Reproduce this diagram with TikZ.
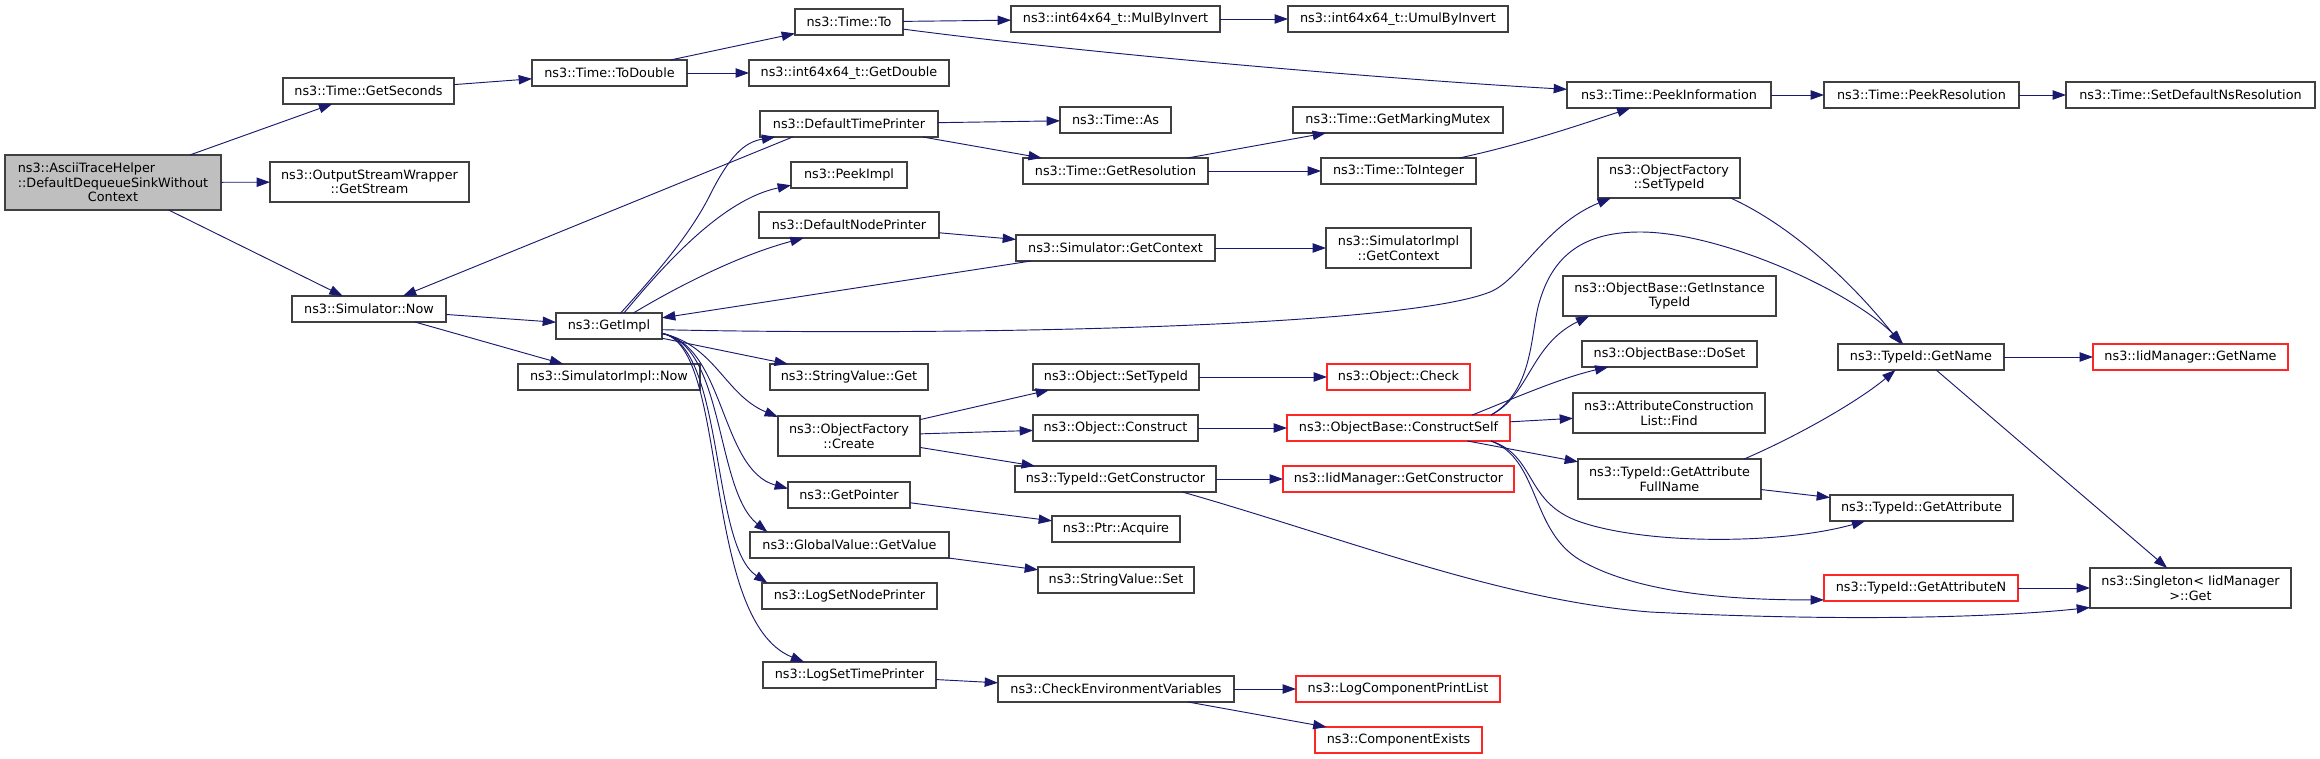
\documentclass[tikz,border=0pt]{standalone}
\usepackage{fontspec}
\setmainfont{DejaVu Sans}
\usetikzlibrary{arrows.meta}
\definecolor{edgec}{HTML}{191970}
\definecolor{boxc}{HTML}{404040}
\definecolor{rootfill}{HTML}{BFBFBF}
\newcommand\bx[7][]{\node[fnbox,#1,minimum width={(#5-#3)*0.75pt},minimum height={(#6-#4)*0.75pt}] (#2) at ({(#3+#5)/2},{(#4+#6)/2}) {#7};}
\begin{document}
\begin{tikzpicture}[x=0.75pt,y=-0.75pt,
  fnbox/.style={draw=boxc,line width=0.8pt,fill=white,inner sep=0pt,outer sep=0pt,align=center,font=\fontsize{9.6pt}{11pt}\selectfont},
  redbox/.style={draw=red!85!white},
  rootbox/.style={fill=rootfill},
  cl/.style={draw=edgec,line width=0.7pt,-{Triangle[length=10pt,width=7pt]}}]
\useasboundingbox (0,0) rectangle (2320,759);
\fill[white] (0,0) rectangle (2320,759);
% nodes
\bx[rootbox]{ascii}{5}{155}{221}{210}{\rlap{ns3::AsciiTraceHelper}\phantom{::DefaultDequeueSinkWithout}\\::DefaultDequeueSinkWithout\\Context}
\bx{getsec}{283}{78}{454}{104}{ns3::Time::GetSeconds}
\bx{osw}{270}{162}{469}{202}{ns3::OutputStreamWrapper\\::GetStream}
\bx{simnow}{292}{296}{446}{322}{ns3::Simulator::Now}
\bx{todouble}{532}{60}{687}{86}{ns3::Time::ToDouble}
\bx{timeto}{795}{9}{903}{35}{ns3::Time::To}
\bx{getdouble}{749}{60}{949}{86}{ns3::int64x64\_t::GetDouble}
\bx{mulby}{1011}{6}{1220}{32}{ns3::int64x64\_t::MulByInvert}
\bx{umulby}{1288}{6}{1508}{32}{ns3::int64x64\_t::UmulByInvert}
\bx{dtp}{760}{111}{938}{137}{ns3::DefaultTimePrinter}
\bx{timeas}{1060}{107}{1171}{133}{ns3::Time::As}
\bx{getres}{1023}{158}{1208}{184}{ns3::Time::GetResolution}
\bx{peekimpl}{791}{162}{907}{188}{ns3::PeekImpl}
\bx{dnp}{759}{212}{939}{238}{ns3::DefaultNodePrinter}
\bx{simgetctx}{1016}{235}{1215}{261}{ns3::Simulator::GetContext}
\bx{simimplgetctx}{1326}{228}{1471}{268}{ns3::SimulatorImpl\\::GetContext}
\bx{getimpl}{556}{313}{662}{339}{ns3::GetImpl}
\bx{simimplnow}{518}{364}{700}{390}{ns3::SimulatorImpl::Now}
\bx{strget}{770}{364}{928}{390}{ns3::StringValue::Get}
\bx{ofcreate}{778}{416}{920}{456}{ns3::ObjectFactory\\::Create}
\bx{objsettype}{1033}{364}{1199}{390}{ns3::Object::SetTypeId}
\bx{objconstruct}{1033}{415}{1198}{441}{ns3::Object::Construct}
\bx{getctor}{1015}{466}{1216}{492}{ns3::TypeId::GetConstructor}
\bx{getptr}{788}{482}{910}{508}{ns3::GetPointer}
\bx{ptracq}{1052}{516}{1180}{542}{ns3::Ptr::Acquire}
\bx{gvgetval}{750}{532}{949}{558}{ns3::GlobalValue::GetValue}
\bx{strset}{1038}{567}{1194}{593}{ns3::StringValue::Set}
\bx{lognode}{762}{583}{937}{609}{ns3::LogSetNodePrinter}
\bx{logtime}{763}{662}{936}{688}{ns3::LogSetTimePrinter}
\bx{checkenv}{998}{676}{1234}{702}{ns3::CheckEnvironmentVariables}
\bx{marking}{1293}{107}{1503}{133}{ns3::Time::GetMarkingMutex}
\bx{toint}{1321}{158}{1476}{184}{ns3::Time::ToInteger}
\bx{peekinfo}{1567}{82}{1771}{108}{ns3::Time::PeekInformation}
\bx{peekres}{1824}{82}{2019}{108}{ns3::Time::PeekResolution}
\bx{setdef}{2066}{82}{2315}{108}{ns3::Time::SetDefaultNsResolution}
\bx{ofsettype}{1598}{158}{1740}{198}{ns3::ObjectFactory\\::SetTypeId}
\bx[redbox]{objcheck}{1327}{364}{1470}{390}{ns3::Object::Check}
\bx[redbox]{constructself}{1287}{415}{1510}{441}{ns3::ObjectBase::ConstructSelf}
\bx[redbox]{iidctor}{1283}{466}{1514}{492}{ns3::IidManager::GetConstructor}
\bx{getinst}{1563}{276}{1776}{316}{ns3::ObjectBase::GetInstance\\TypeId}
\bx{doset}{1582}{341}{1757}{367}{ns3::ObjectBase::DoSet}
\bx{attrfind}{1573}{393}{1765}{433}{ns3::AttributeConstruction\\List::Find}
\bx{attrfull}{1578}{459}{1761}{499}{ns3::TypeId::GetAttribute\\FullName}
\bx[redbox]{getattrn}{1824}{575}{2018}{601}{ns3::TypeId::GetAttributeN}
\bx[redbox]{logcomp}{1296}{676}{1500}{702}{ns3::LogComponentPrintList}
\bx[redbox]{compexists}{1315}{727}{1482}{753}{ns3::ComponentExists}
\bx{tgetname}{1838}{344}{2004}{370}{ns3::TypeId::GetName}
\bx[redbox]{iidgetname}{2093}{344}{2288}{370}{ns3::IidManager::GetName}
\bx{getattr}{1830}{495}{2013}{521}{ns3::TypeId::GetAttribute}
\bx{singleton}{2090}{568}{2291}{608}{ns3::Singleton< IidManager\\>::Get}
% edges
\draw[cl] (ascii) -- (getsec);
\draw[cl] (ascii) -- (osw);
\draw[cl] (ascii) -- (simnow);
\draw[cl] (getsec) -- (todouble);
\draw[cl] (todouble) -- (timeto);
\draw[cl] (todouble) -- (getdouble);
\draw[cl] (timeto) -- (mulby);
\draw[cl] (mulby) -- (umulby);
\draw[cl] (timeto) .. controls (1100,55) and (1400,80) .. (peekinfo);
\draw[cl] (dtp) -- (timeas);
\draw[cl] (dtp) -- (getres);
\draw[cl] (getres) -- (marking);
\draw[cl] (getres) -- (toint);
\draw[cl] (toint) .. controls (1520,145) and (1580,125) .. (peekinfo);
\draw[cl] (peekinfo) -- (peekres);
\draw[cl] (peekres) -- (setdef);
\draw[cl] (dtp.193) -- (simnow.21);
\draw[cl] (getimpl.48) .. controls (655,275) and (690,235) .. (710,195) .. controls (730,155) and (745,142) .. (dtp.190);
\draw[cl] (getimpl.41) .. controls (660,270) and (720,200) .. (peekimpl.190);
\draw[cl] (getimpl.28) .. controls (680,285) and (740,255) .. (dnp.196);
\draw[cl] (dnp) -- (simgetctx);
\draw[cl] (simgetctx) -- (simimplgetctx);
\draw[cl] (simgetctx) -- (getimpl);
\draw[cl] (simnow) -- (getimpl);
\draw[cl] (simnow) -- (simimplnow);
\draw[cl] (getimpl.-4) .. controls (950,336) and (1400,328) .. (1490,292) .. controls (1520,280) and (1545,225) .. (ofsettype.199);
\draw[cl] (getimpl.-13) -- (strget.168);
\draw[cl] (getimpl.-8) .. controls (715,345) and (725,395) .. (ofcreate.165);
\draw[cl] (getimpl.-8) .. controls (725,345) and (720,470) .. (getptr.174);
\draw[cl] (getimpl.-8) .. controls (725,345) and (715,490) .. (gvgetval.171);
\draw[cl] (getimpl.-8) .. controls (725,345) and (710,545) .. (lognode.171);
\draw[cl] (getimpl.-8) .. controls (730,345) and (700,620) .. (logtime.164);
\draw[cl] (ofcreate.13) -- (objsettype.191);
\draw[cl] (ofcreate) -- (objconstruct);
\draw[cl] (ofcreate) -- (getctor);
\draw[cl] (objsettype) -- (objcheck);
\draw[cl] (objconstruct) -- (constructself);
\draw[cl] (getctor) -- (iidctor);
\draw[cl] (getctor.-11) .. controls (1350,540) and (1500,600) .. (1650,612) .. controls (1850,622) and (2000,617) .. (singleton.191);
\draw[cl] (getptr) -- (ptracq);
\draw[cl] (gvgetval) -- (strset);
\draw[cl] (logtime) -- (checkenv);
\draw[cl] (checkenv) -- (logcomp);
\draw[cl] (checkenv) -- (compexists);
\draw[cl] (constructself.8) .. controls (1530,395) and (1530,345) .. (getinst.194);
\draw[cl] (constructself.10) .. controls (1510,400) and (1560,378) .. (doset.192);
\draw[cl] (constructself) -- (attrfind);
\draw[cl] (constructself) -- (attrfull);
\draw[cl] (constructself.-8) .. controls (1535,455) and (1525,500) .. (1575,520) .. controls (1640,545) and (1780,545) .. (getattr.193);
\draw[cl] (constructself.-8) .. controls (1540,460) and (1530,530) .. (1580,560) .. controls (1640,595) and (1740,600) .. (getattrn.187);
\draw[cl] (constructself.8) .. controls (1535,390) and (1530,330) .. (1540,300) .. controls (1555,250) and (1590,232) .. (1640,232) .. controls (1720,232) and (1850,290) .. (tgetname.144);
\draw[cl] (ofsettype.-18) .. controls (1790,225) and (1850,280) .. (tgetname.147);
\draw[cl] (tgetname) -- (iidgetname);
\draw[cl] (tgetname) -- (singleton);
\draw[cl] (attrfull.15) .. controls (1800,435) and (1860,400) .. (tgetname.207);
\draw[cl] (attrfull) -- (getattr);
\draw[cl] (getattrn) -- (singleton);
\end{tikzpicture}
\end{document}
